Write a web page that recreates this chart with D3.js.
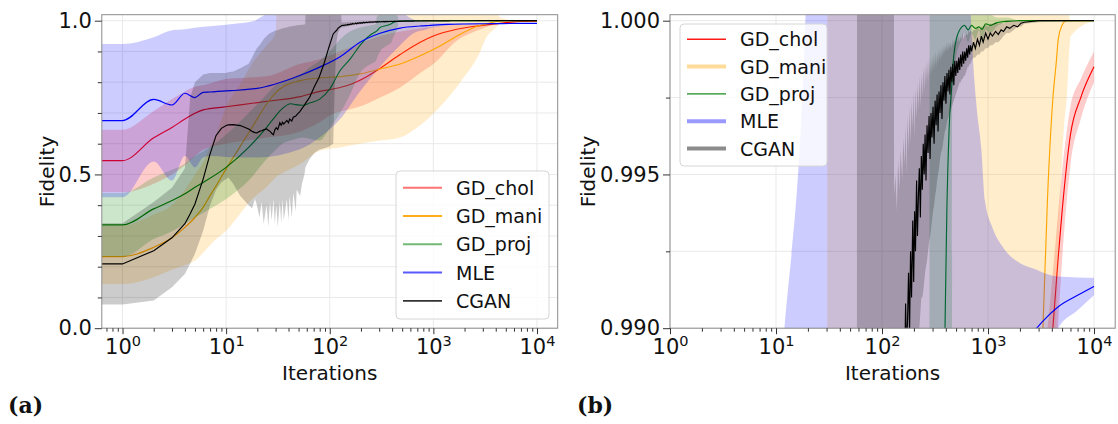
<!DOCTYPE html>
<html><head><meta charset="utf-8">
<script src="https://cdn.jsdelivr.net/npm/d3@7"></script>
<style>body{margin:0;background:#fff}svg{display:block}</style>
</head><body><svg id="c" width="1118" height="424"></svg>
<script>
// ---------------- data (iterations, mean fidelity, band low, band high) ----------------
const cholX    = [1,2,3,4,5,6,10,25,52,80,108,150,227,306,478,746,1000,1680,2500,3000,3630,4090,4570,5000,6000,7500,10000];
const cholMean = [.545,.619,.653,.680,.699,.710,.720,.738,.753,.770,.778,.790,.818,.845,.890,.930,.950,.972,.982,.985,.9880,.9900,.9922,.9938,.9963,.9975,.9985];
const cholLo   = [.442,.47,.50,.53,.56,.58,.60,.62,.64,.67,.697,.71,.729,.75,.783,.83,.859,.935,.965,.975,.9850,.9877,.9900,.9922,.9953,.9968,.9980];
const cholHi   = [.645,.706,.745,.77,.785,.79,.81,.82,.86,.875,.892,.91,.935,.95,.965,.975,.98,.986,.988,.9885,.9900,.9918,.9937,.9951,.9972,.9981,.9990];

const maniX    = [1,2,3,4,5,6,7,8,10,13.5,17.8,24.6,30,31,33,52,80,126,196,306,478,746,1160,1820,2840,3300,3640,4100,4420,4600,5000,5200,5500,6030,10000];
const maniMean = [.233,.263,.294,.328,.360,.393,.431,.463,.518,.588,.653,.729,.765,.770,.778,.805,.814,.818,.827,.843,.859,.886,.918,.956,.985,.990,.9942,.9975,.9987,.9994,.99985,.99995,1.0,1.0,1.0];
const maniLo   = [.144,.166,.19,.205,.22,.245,.27,.29,.317,.37,.42,.459,.49,.495,.50,.534,.577,.588,.60,.61,.62,.66,.72,.80,.90,.95,.965,.980,.990,.992,.9955,.9965,.9974,.9995,1.0];
const maniHi   = [.334,.37,.40,.45,.50,.54,.59,.63,.72,.79,.86,.92,.96,1.05,1.06,1.08,1.06,1.05,1.05,1.06,1.08,1.08,1.06,1.04,1.02,1.02,1.02,1.02,1.01,1.008,1.005,1.003,1.001,1.0,1.0];

const projX    = [1,2,3,4,5,6,10,16.5,24.6,30,35,42,47,55,65,80,100,126,157,196,250,280,283,306,360,393,409,430,457,460,500,566,600,650,700,760,820,880,950,1050,1200,1500,2000,10000];
const projMean = [.336,.388,.415,.437,.458,.474,.523,.588,.653,.69,.715,.73,.727,.725,.733,.745,.778,.838,.875,.92,.955,.965,.966,.978,.985,.990,.9938,.9965,.9980,.9982,.99937,.9998,.99985,.9997,.99985,.99975,.9998,.99972,.9999,.99985,.99993,.99998,1.0,1.0];
const projLo   = [.232,.29,.315,.34,.36,.375,.42,.48,.55,.58,.60,.61,.615,.62,.615,.61,.65,.70,.76,.83,.86,.87,.875,.90,.92,.93,.945,.96,.985,.9975,.9988,.9994,.9996,.9993,.9996,.9994,.9997,.9993,.9997,.9996,.9998,.99995,1.0,1.0];
const projHi   = [.44,.49,.515,.535,.56,.575,.63,.70,.76,.79,.80,.81,.82,.83,.85,.87,.90,.94,.965,.978,.985,.989,1.01,1.02,1.02,1.02,1.02,1.02,1.01,1.0003,1.0004,1.0003,1.0002,1.0002,1.0002,1.0002,1.0002,1.0002,1.0002,1.0002,1.0001,1.0001,1.0,1.0];

const mleX     = [1,2,3,4,5,6,7,10,12,19,20,50,80,126,196,306,478,690,771,867,935,1096,1380,2030,2880,3230,4600,7000,10000];
const mleMean  = [.675,.744,.726,.764,.750,.767,.768,.772,.773,.779,.780,.820,.849,.883,.930,.959,.976,.982,.983,.984,.985,.9865,.988,.9893,.9900,.9902,.9907,.99107,.99136];
const mleLo    = [.426,.542,.48,.56,.523,.556,.56,.557,.556,.555,.555,.58,.62,.68,.77,.85,.92,.964,.968,.972,.976,.980,.984,.9866,.988,.9887,.9900,.99058,.99107];
const mleHi    = [.924,.946,.969,.972,.977,.980,.982,.987,.990,1.0002,1.005,1.06,1.08,1.09,1.09,1.07,1.03,1.0001,.99741,.99579,.99416,.99329,.99264,.9921,.9919,.99182,.99168,.99165,.99164];

// CGAN, early part (iterations 1..128)
const cganEarlyX    = [1,2,3,4,4.5,5,6,7,8,9, 10,10.5,11.7,13.7,16.5,17.8,19,19.8,21,22, 23,24.6,25.5,26.5,27.5,28.6,29.5,30.5,31.5,33,
                       34,35,36,38.5,40,41,43,44.5,47,48, 51.7,54,57,58,58.5,64,71,79,88,98, 108,112,116,120,125,128];
const cganEarlyMean = [.209,.252,.294,.340,.372,.404,.485,.567,.627,.650, .659,.661,.662,.659,.648,.640,.636,.635,.640,.642, .645,.648,.644,.640,.634,.629,.645,.652,.646,.668,
                       .660,.670,.664,.676,.668,.680,.674,.686,.690,.694, .705,.715,.725,.730,.732,.751,.785,.816,.860,.913, .957,.963,.968,.975,.980,.982];
const cganEarlyLo   = [.077,.090,.133,.176,.21,.242,.317,.40,.45,.475, .485,.49,.47,.43,.40,.39,.42,.40,.36,.41, .34,.40,.33,.41,.35,.42,.34,.40,.33,.41,
                       .34,.42,.35,.42,.35,.43,.36,.44,.38,.45, .43,.47,.50,.52,.525,.55,.57,.58,.585,.59, .60,.80,.93,.96,.972,.976];
const cganEarlyHi   = [.341,.410,.457,.520,.75,.80,.825,.83,.83,.83, .83,.832,.835,.845,.86,.88,.90,.91,.92,.93, .94,.95,.955,.96,.962,.965,.967,.968,.97,.972,
                       .974,.975,.976,.978,.98,.981,.982,.983,.984,.985, .986,.987,.988,.989,1.05,1.05,1.05,1.05,1.05,1.05, 1.05,1.05,1.05,1.05,1.05,1.05];
// CGAN, late noisy part (iterations 130..10000)
const cganLateX    = [130,134,138,142,146,150,155,159,163,167, 170,174,178,182,186,190,195,199,203,207, 212,216,221,225,230,235,240,245,250,255,
                      260,266,272,278,284,290,296,303,310,317, 324,331,338,345,353,360,368,376,384,392, 401,410,419,428,437,446,456,466,476,486,
                      497,508,519,530,541,553,565,577,590,603, 616,630,643,657,671,685,700,730,760,795, 830,865,900,950,1000,1050,1100,1180,1250,1330,
                      1400,1500,1600,1750,1900,2050,2200,3000,10000];
const cganLateMean = [.9840,.9852,.9846,.9868,.9858,.9880,.9872,.9895,.9884,.9908, .9893,.9902,.9918,.9899,.9925,.9910,.9935,.9915,.9938,.9925,
                      .9948,.9930,.9944,.9952,.9936,.9956,.9945,.9960,.9950,.9963, .9948,.9966,.9957,.9969,.9955,.9970,.9962,.9972,.9960,.9974,
                      .9966,.9976,.9964,.9977,.9970,.9979,.9968,.9980,.9974,.9982, .9973,.9983,.9977,.9984,.9976,.9985,.9980,.9986,.9979,.9987,
                      .9982,.9987,.9983,.9988,.9984,.9989,.9985,.9990,.9986,.9990, .9987,.9991,.9988,.9992,.9989,.9992,.9990,.9993,.9991,.9994,
                      .9992,.9995,.9993,.9996,.9994,.9996,.9995,.99965,.99955,.9997, .99965,.9998,.99975,.99985,.9998,.99992,.99995,1.0,1.0];
const cganLateLo   = [.978,.979,.979,.980,.981,.982,.983,.984,.985,.9855, .986,.9865,.987,.9875,.988,.988,.9885,.9885,.989,.989,
                      .9895,.9898,.990,.990,.9905,.991,.991,.9912,.9915,.9918, .992,.9922,.9925,.9928,.993,.9932,.9935,.9938,.994,.9943,
                      .9945,.9948,.995,.9952,.9955,.9957,.9958,.996,.9962,.9964, .9965,.9967,.9968,.9969,.997,.9971,.9972,.9973,.9974,.9975,
                      .9976,.9977,.9978,.9979,.998,.998,.9981,.9981,.9982,.9982, .9983,.9984,.9985,.9985,.9986,.9986,.9987,.9988,.9988,.9989,
                      .9989,.9990,.9990,.9991,.9991,.9992,.9992,.9993,.9993,.9994, .9995,.9996,.9996,.9997,.9998,.9998,.9999,.99995,1.0];
const cganLateHi   = [.9943,.9950,.9938,.9955,.9945,.9958,.9948,.9962,.9953,.9966, .9950,.9969,.9958,.9972,.9960,.9974,.9965,.9977,.9962,.9978,
                      .9968,.9980,.9971,.9982,.9972,.9983,.9975,.9985,.9977,.9986, .9979,.9987,.9980,.9988,.9982,.9988,.9983,.9989,.9984,.9990,
                      .9985,.9990,.9986,.9991,.9987,.9991,.9988,.9992,.9989,.9992, .9990,.9993,.9990,.9993,.9991,.9993,.9991,.9994,.9992,.9994,
                      .9992,.9995,.9993,.9995,.9993,.9995,.9994,.9996,.9994,.9996, .9995,.9996,.9995,.9997,.9996,.9997,.9996,.9997,.9997,.9998,
                      .9997,.9998,.9998,.9999,.9998,.9999,.9999,.99995,.9999,.99995, .9999,1.0,1.0,1.0,1.0,1.0,1.0,1.0,1.0];

const seriesNames  = ["GD_chol","GD_mani","GD_proj","MLE","CGAN"];
const xTickVals    = [1,10,100,1000,10000];
const xTickExps    = ["0","1","2","3","4"];
const yMajorA      = [0.0,0.5,1.0];
const yMinorA      = [0.1,0.2,0.3,0.4,0.6,0.7,0.8,0.9];
const yMajorB      = [0.990,0.995,1.000];
const yMinorB      = [0.9925,0.9975];
const panelTags    = ["(a)","(b)"];
const axisLabelX   = "Iterations";
const axisLabelY   = "Fidelity";

// ---------------- drawing ----------------
const colors = ["red","orange","green","blue","black"];
const series = [
  {x:cholX,m:cholMean,lo:cholLo,hi:cholHi,lin:false},
  {x:maniX,m:maniMean,lo:maniLo,hi:maniHi,lin:false},
  {x:projX,m:projMean,lo:projLo,hi:projHi,lin:false},
  {x:mleX, m:mleMean, lo:mleLo, hi:mleHi, lin:false},
  {x:cganEarlyX.concat(cganLateX), m:cganEarlyMean.concat(cganLateMean),
   lo:cganEarlyLo.concat(cganLateLo), hi:cganEarlyHi.concat(cganLateHi), lin:true}
].map((s,i)=>Object.assign(s,{name:seriesNames[i],color:colors[i]}));

const TOP = 14.7, BOTTOM = 328.2;
const FONT = '"DejaVu Sans", sans-serif';
const svg = d3.select("#c");
const defs = svg.append("defs");

const panels = [
  {id:"a", left:101.8, right:557.7, xDomain:[Math.pow(10,-0.2),Math.pow(10,4.2)], yDomain:[0,1.0195],
   yMajor:yMajorA, yMinor:yMinorA, fmt:d3.format(".1f"), ylabX:47, tagX:8,
   legend:{x:396,y:171,w:153,h:148,first:16.7,step:28.3,
     styles:[{o:.55,w:2},{o:.9,w:2},{o:.55,w:2},{o:.65,w:2},{o:.8,w:1.6}]}},
  {id:"b", left:670, right:1115.2, xDomain:[1,Math.pow(10,4.2)], yDomain:[0.99,1.000195],
   yMajor:yMajorB, yMinor:yMinorB, fmt:d3.format(".3f"), ylabX:588, tagX:577,
   legend:{x:680,y:24,w:147,h:142,first:15.3,step:27.3,
     styles:[{o:.9,w:1.4},{o:.4,w:4},{o:.9,w:1.4},{o:.4,w:4},{o:.45,w:4}]}}
];

panels.forEach((p,pi)=>{
  const xs = d3.scaleLog().domain(p.xDomain).range([p.left,p.right]);
  const ys = d3.scaleLinear().domain(p.yDomain).range([BOTTOM,TOP]);
  const g = svg.append("g");

  defs.append("clipPath").attr("id","clip"+p.id).append("rect")
    .attr("x",p.left).attr("y",TOP).attr("width",p.right-p.left).attr("height",BOTTOM-TOP);

  // grid
  const grid = g.append("g").attr("stroke","#e9e9e9").attr("stroke-width",1);
  p.yMajor.concat(p.yMinor).forEach(v=>{
    grid.append("line").attr("x1",p.left).attr("x2",p.right).attr("y1",ys(v)).attr("y2",ys(v));
  });
  xTickVals.forEach(v=>{
    grid.append("line").attr("x1",xs(v)).attr("x2",xs(v)).attr("y1",TOP).attr("y2",BOTTOM);
  });

  // bands and lines
  const plot = g.append("g").attr("clip-path",`url(#clip${p.id})`);
  series.forEach(s=>{
    const pts = s.x.map((x,i)=>({x:x,m:s.m[i],lo:s.lo[i],hi:s.hi[i]}));
    const d0 = xs.domain()[0];
    if (d0 < pts[0].x) pts.unshift(Object.assign({},pts[0],{x:d0}));
    const curve = s.lin ? d3.curveLinear : d3.curveMonotoneX;
    plot.append("path")
      .attr("d",d3.area().x(d=>xs(d.x)).y0(d=>ys(d.lo)).y1(d=>ys(d.hi)).curve(curve)(pts))
      .attr("fill",s.color).attr("fill-opacity",0.2).attr("stroke","none");
    plot.append("path")
      .attr("d",d3.line().x(d=>xs(d.x)).y(d=>ys(d.m)).curve(curve)(pts))
      .attr("fill","none").attr("stroke",s.color).attr("stroke-width",1.15);
  });

  // frame
  g.append("rect").attr("x",p.left).attr("y",TOP).attr("width",p.right-p.left).attr("height",BOTTOM-TOP)
    .attr("fill","none").attr("stroke","#8c8c8c").attr("stroke-width",1);

  // y axis
  const yAx = g.append("g").attr("transform",`translate(${p.left},0)`)
    .call(d3.axisLeft(ys).tickValues(p.yMajor).tickSize(7).tickPadding(3).tickFormat(p.fmt));
  yAx.select(".domain").remove();
  yAx.selectAll("text").attr("font-family",FONT).attr("font-size",21).attr("fill","#111");
  yAx.selectAll("line").attr("stroke","#333");
  const yAxm = g.append("g").attr("transform",`translate(${p.left},0)`)
    .call(d3.axisLeft(ys).tickValues(p.yMinor).tickSize(4).tickFormat(""));
  yAxm.select(".domain").remove();
  yAxm.selectAll("line").attr("stroke","#333");

  // x axis
  const xAx = g.append("g").attr("transform",`translate(0,${BOTTOM})`)
    .call(d3.axisBottom(xs).tickValues(xTickVals).tickSize(6).tickPadding(5.4).tickFormat(()=>"10"));
  xAx.select(".domain").remove();
  xAx.selectAll("line").attr("stroke","#333");
  xAx.selectAll("text").attr("font-family",FONT).attr("font-size",21).attr("fill","#111")
    .each(function(d,i){
      d3.select(this).append("tspan").attr("dy",-8).attr("font-size",14.5).text(xTickExps[i]);
    });
  const minors = [];
  const [lo,hi] = xs.domain();
  for (let e=-1;e<=4;e++) for (let k=2;k<=9;k++){ const v=k*Math.pow(10,e); if(v>=lo&&v<=hi) minors.push(v); }
  const xAxm = g.append("g").attr("transform",`translate(0,${BOTTOM})`)
    .call(d3.axisBottom(xs).tickValues(minors).tickSize(3.5).tickFormat(""));
  xAxm.select(".domain").remove();
  xAxm.selectAll("line").attr("stroke","#333");

  // axis labels
  g.append("text").attr("x",(p.left+p.right)/2).attr("y",379.5).attr("text-anchor","middle")
    .attr("font-family",FONT).attr("font-size",20).attr("fill","#111").text(axisLabelX);
  g.append("text").attr("transform",`translate(${p.ylabX},${(TOP+BOTTOM)/2}) rotate(-90)`)
    .attr("text-anchor","middle").attr("dominant-baseline","central")
    .attr("font-family",FONT).attr("font-size",20).attr("fill","#111").text(axisLabelY);

  // panel tag
  g.append("text").attr("x",p.tagX).attr("y",413).attr("font-family",'"DejaVu Serif", serif')
    .attr("font-weight","bold").attr("font-size",22).attr("fill","#111").text(panelTags[pi]);

  // legend
  const L = p.legend;
  const lg = g.append("g");
  lg.append("rect").attr("x",L.x).attr("y",L.y).attr("width",L.w).attr("height",L.h).attr("rx",4)
    .attr("fill","#fff").attr("fill-opacity",0.8).attr("stroke","#d6d6d6").attr("stroke-width",1);
  series.forEach((s,i)=>{
    const yy = L.y + L.first + i*L.step;
    lg.append("line").attr("x1",L.x+7).attr("x2",L.x+46).attr("y1",yy).attr("y2",yy)
      .attr("stroke",s.color).attr("stroke-opacity",L.styles[i].o).attr("stroke-width",L.styles[i].w);
    lg.append("text").attr("x",L.x+60).attr("y",yy).attr("dominant-baseline","central")
      .attr("font-family",FONT).attr("font-size",19).attr("fill","#111").text(s.name);
  });
});
</script></body></html>
